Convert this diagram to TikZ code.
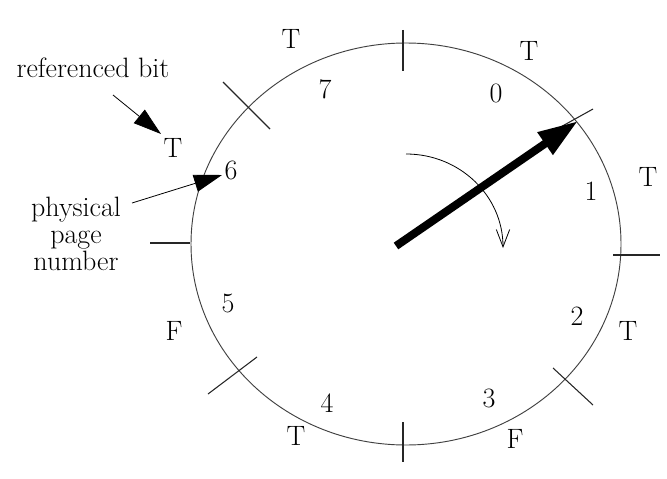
\documentclass[tikz,border=0pt]{standalone}
\usetikzlibrary{arrows.meta}
\begin{document}
\begin{tikzpicture}[x=0.75pt,y=-0.75pt,
  lbl/.style={inner sep=0pt,font=\fontsize{21}{20}\selectfont},
  tick/.style={line width=0.8pt,black!85},
  ring/.style={line width=0.7pt,black!75},
  callout/.style={line width=0.6pt,-{Triangle[length=21pt,width=13pt]}},
  hand/.style={line width=6pt,-{Triangle[length=30pt,width=19pt]}},
  turn/.style={line width=0.6pt,-{Straight Barb[length=13pt,width=10pt,line width=0.6pt]}}]
\useasboundingbox (0,0) rectangle (667,478);
% clock face
\draw[ring] (406,244) ellipse [x radius=161.25pt, y radius=150.75pt];
% ticks
\draw[tick] (403,30) -- (403,71);
\draw[tick] (403,422) -- (403,462);
\draw[tick] (150,243) -- (190,243);
\draw[tick] (613,255) -- (660,255);
\draw[tick] (223,82) -- (270,129);
\draw[tick] (557,129) -- (593,109);
\draw[tick] (553,368) -- (593,405);
\draw[tick] (208,394) -- (257,357);
% page numbers
\node[lbl] (n0) at (496,93) {0};
\node[lbl] (n1) at (591,191) {1};
\node[lbl] (n2) at (577,316) {2};
\node[lbl] (n3) at (489,398) {3};
\node[lbl] (n4) at (327,403) {4};
\node[lbl] (n5) at (228,303) {5};
\node[lbl] (n6) at (231,170) {6};
\node[lbl] (n7) at (325,89) {7};
% referenced bits
\node[lbl] (b0) at (529,51) {T};
\node[lbl] (b1) at (648,177) {T};
\node[lbl] (b2) at (628,331) {T};
\node[lbl] (b3) at (515,439) {F};
\node[lbl] (b4) at (296,436) {T};
\node[lbl] (b5) at (174,331) {F};
\node[lbl] (b6) at (173,148) {T};
\node[lbl] (b7) at (291,39) {T};
% callouts
\node[lbl,anchor=base] (ref) at (93,78) {referenced bit};
\node[lbl,align=center] (phys) at (76,234) {physical\\page\\number};
\coordinate (refs) at (113,95);
\coordinate (refe) at (161,134);
\coordinate (physs) at (132,203);
\coordinate (physe) at (222,175);
\draw[callout] (refs) -- (refe);
\draw[callout] (physs) -- (physe);
% hand
\coordinate (hc) at (396,246);
\coordinate (htip) at (578,121);
\draw[hand] (hc) -- (htip);
% rotation direction
\coordinate (rs) at (406,154);
\coordinate (re) at (503,248);
\draw[turn] (rs) .. controls (460,154) and (503,196) .. (re);
\end{tikzpicture}
\end{document}
